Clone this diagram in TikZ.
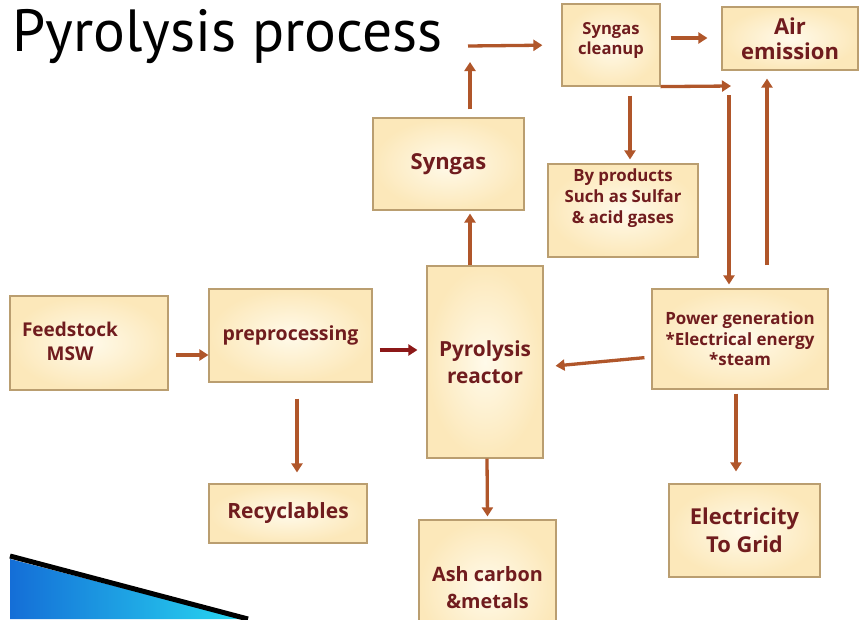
\documentclass[tikz,border=0pt]{standalone}
\usepackage{fontspec}
\setmainfont{PT Sans}
\newfontfamily\boxfont{Open Sans}
\usetikzlibrary{arrows.meta}

\definecolor{boxtext}{RGB}{112,28,30}
\definecolor{boxline}{RGB}{186,158,112}
\definecolor{boxfill}{RGB}{252,232,186}
\definecolor{boxin}{RGB}{255,250,234}
\definecolor{flow}{RGB}{176,86,42}
\definecolor{flowdark}{RGB}{140,24,24}

\tikzset{
  stage/.style={draw=boxline, line width=1.2pt, inner color=boxin, outer color=boxfill,
    text=boxtext, align=center, font=\boxfont\bfseries\fontsize{19.5}{24}\selectfont},
  boxlabel/.style={text=boxtext, align=center},
  arr/.style={draw=flow, line width=3.3pt, -{Triangle[length=9pt,width=11pt]}},
}

\begin{document}
\begin{tikzpicture}[x=1pt,y=-1pt]
\useasboundingbox (0,0) rectangle (864,619);
\clip (0,0) rectangle (864,619);
\fill[white] (0,0) rectangle (864,619);

% title
\node[anchor=west, inner sep=0pt, font=\fontsize{59.5}{62}\selectfont] (title) at (12,37) {Pyrolysis process};

% boxes
\node[stage, minimum width=158, minimum height=94] (feed) at (89,343) {};
\node[boxlabel, font=\boxfont\bfseries\fontsize{19}{24}\selectfont] (feedtxt) at (70,341) {Feedstock\\MSW};
\node[stage, minimum width=163, minimum height=93] (prep) at (290.5,335.5) {preprocessing};
\node[stage, minimum width=116, minimum height=192, font=\boxfont\bfseries\fontsize{20.8}{27}\selectfont] (reactor) at (485,362) {Pyrolysis\\reactor};
\node[stage, minimum width=151, minimum height=92, font=\boxfont\bfseries\fontsize{22}{26}\selectfont] (syngas) at (448.5,164) {Syngas};
\node[stage, minimum width=98, minimum height=82] (cleanup) at (611,45) {};
\node[boxlabel, font=\boxfont\bfseries\fontsize{16.6}{20}\selectfont] (cleanuptxt) at (611,40) {Syngas\\cleanup};
\node[stage, minimum width=136, minimum height=63, font=\boxfont\bfseries\fontsize{22}{25}\selectfont] (air) at (790,38.5) {Air\\emission};
\node[stage, minimum width=150, minimum height=93, font=\boxfont\bfseries\fontsize{16.8}{21}\selectfont] (byprod) at (623,210.5) {By products\\Such as Sulfar\\\& acid gases\\[7pt]};
\node[stage, minimum width=176, minimum height=100, font=\boxfont\bfseries\fontsize{16.9}{20.5}\selectfont] (power) at (740,339) {Power generation\\*Electrical energy\\*steam};
\node[stage, minimum width=158, minimum height=59, font=\boxfont\bfseries\fontsize{21}{26}\selectfont] (recyc) at (288,513.5) {Recyclables};
\node[stage, minimum width=137, minimum height=136, font=\boxfont\bfseries\fontsize{19.8}{27}\selectfont] (ash) at (487.5,588) {Ash carbon\\\&metals};
\node[stage, minimum width=151, minimum height=93, font=\boxfont\bfseries\fontsize{21.9}{28}\selectfont] (elec) at (744.5,530.5) {Electricity\\To Grid};

% free ends
\coordinate (tarr) at (468,46);
\coordinate (sgtop) at (470,62);
\coordinate (cleanend) at (731,86);
\coordinate (downstart) at (729,95);
\coordinate (upstart) at (767,265);

% flows
\draw[arr, shorten <=7pt] ([yshift=-12pt]feed.east) -- ([yshift=-19.5pt]prep.west);
\draw[arr, draw=flowdark, shorten <=7pt, shorten >=9pt] ([yshift=-14.5pt]prep.east) -- ([yshift=12pt]reactor.west);
\draw[arr, shorten <=16pt, shorten >=11pt] ([xshift=6.5pt]prep.south) -- ([xshift=9pt]recyc.north);
\draw[arr, shorten >=3pt] ([xshift=-15pt]reactor.north) -- ([xshift=21.5pt]syngas.south);
\draw[arr, shorten <=8pt] ([xshift=21.5pt]syngas.north) -- (sgtop);
\draw[arr, shorten >=19pt] (tarr) -- (cleanup.west);
\draw[arr, shorten <=10pt, shorten >=14pt] ([yshift=7pt]cleanup.east) -- ([yshift=0.5pt]air.west);
\draw[arr] (cleanup.south east) -- (cleanend);
\draw[arr, shorten <=9pt, shorten >=4pt] ([xshift=19pt]cleanup.south) -- ([xshift=7pt]byprod.north);
\draw[arr, shorten >=4pt] (downstart) -- ([xshift=-11pt]power.north);
\draw[arr, shorten >=8pt] (upstart) -- ([xshift=-23pt]air.south);
\draw[arr, shorten <=7pt, shorten >=12pt] ([yshift=-18pt]power.west) -- ([yshift=-5pt]reactor.east);
\draw[arr, shorten >=3pt] ([xshift=2pt]reactor.south) -- (ash.north);
\draw[arr, shorten <=4pt, shorten >=12pt] ([xshift=-4pt]power.south) -- ([xshift=-8.5pt]elec.north);

% corner triangle
\shade[left color={rgb,255:red,20;green,110;blue,215}, right color={rgb,255:red,40;green,215;blue,240}]
  (10,559) -- (242,619) -- (10,619) -- cycle;
\draw[line width=5pt, black] (10,556) -- (248,619);
\end{tikzpicture}
\end{document}
